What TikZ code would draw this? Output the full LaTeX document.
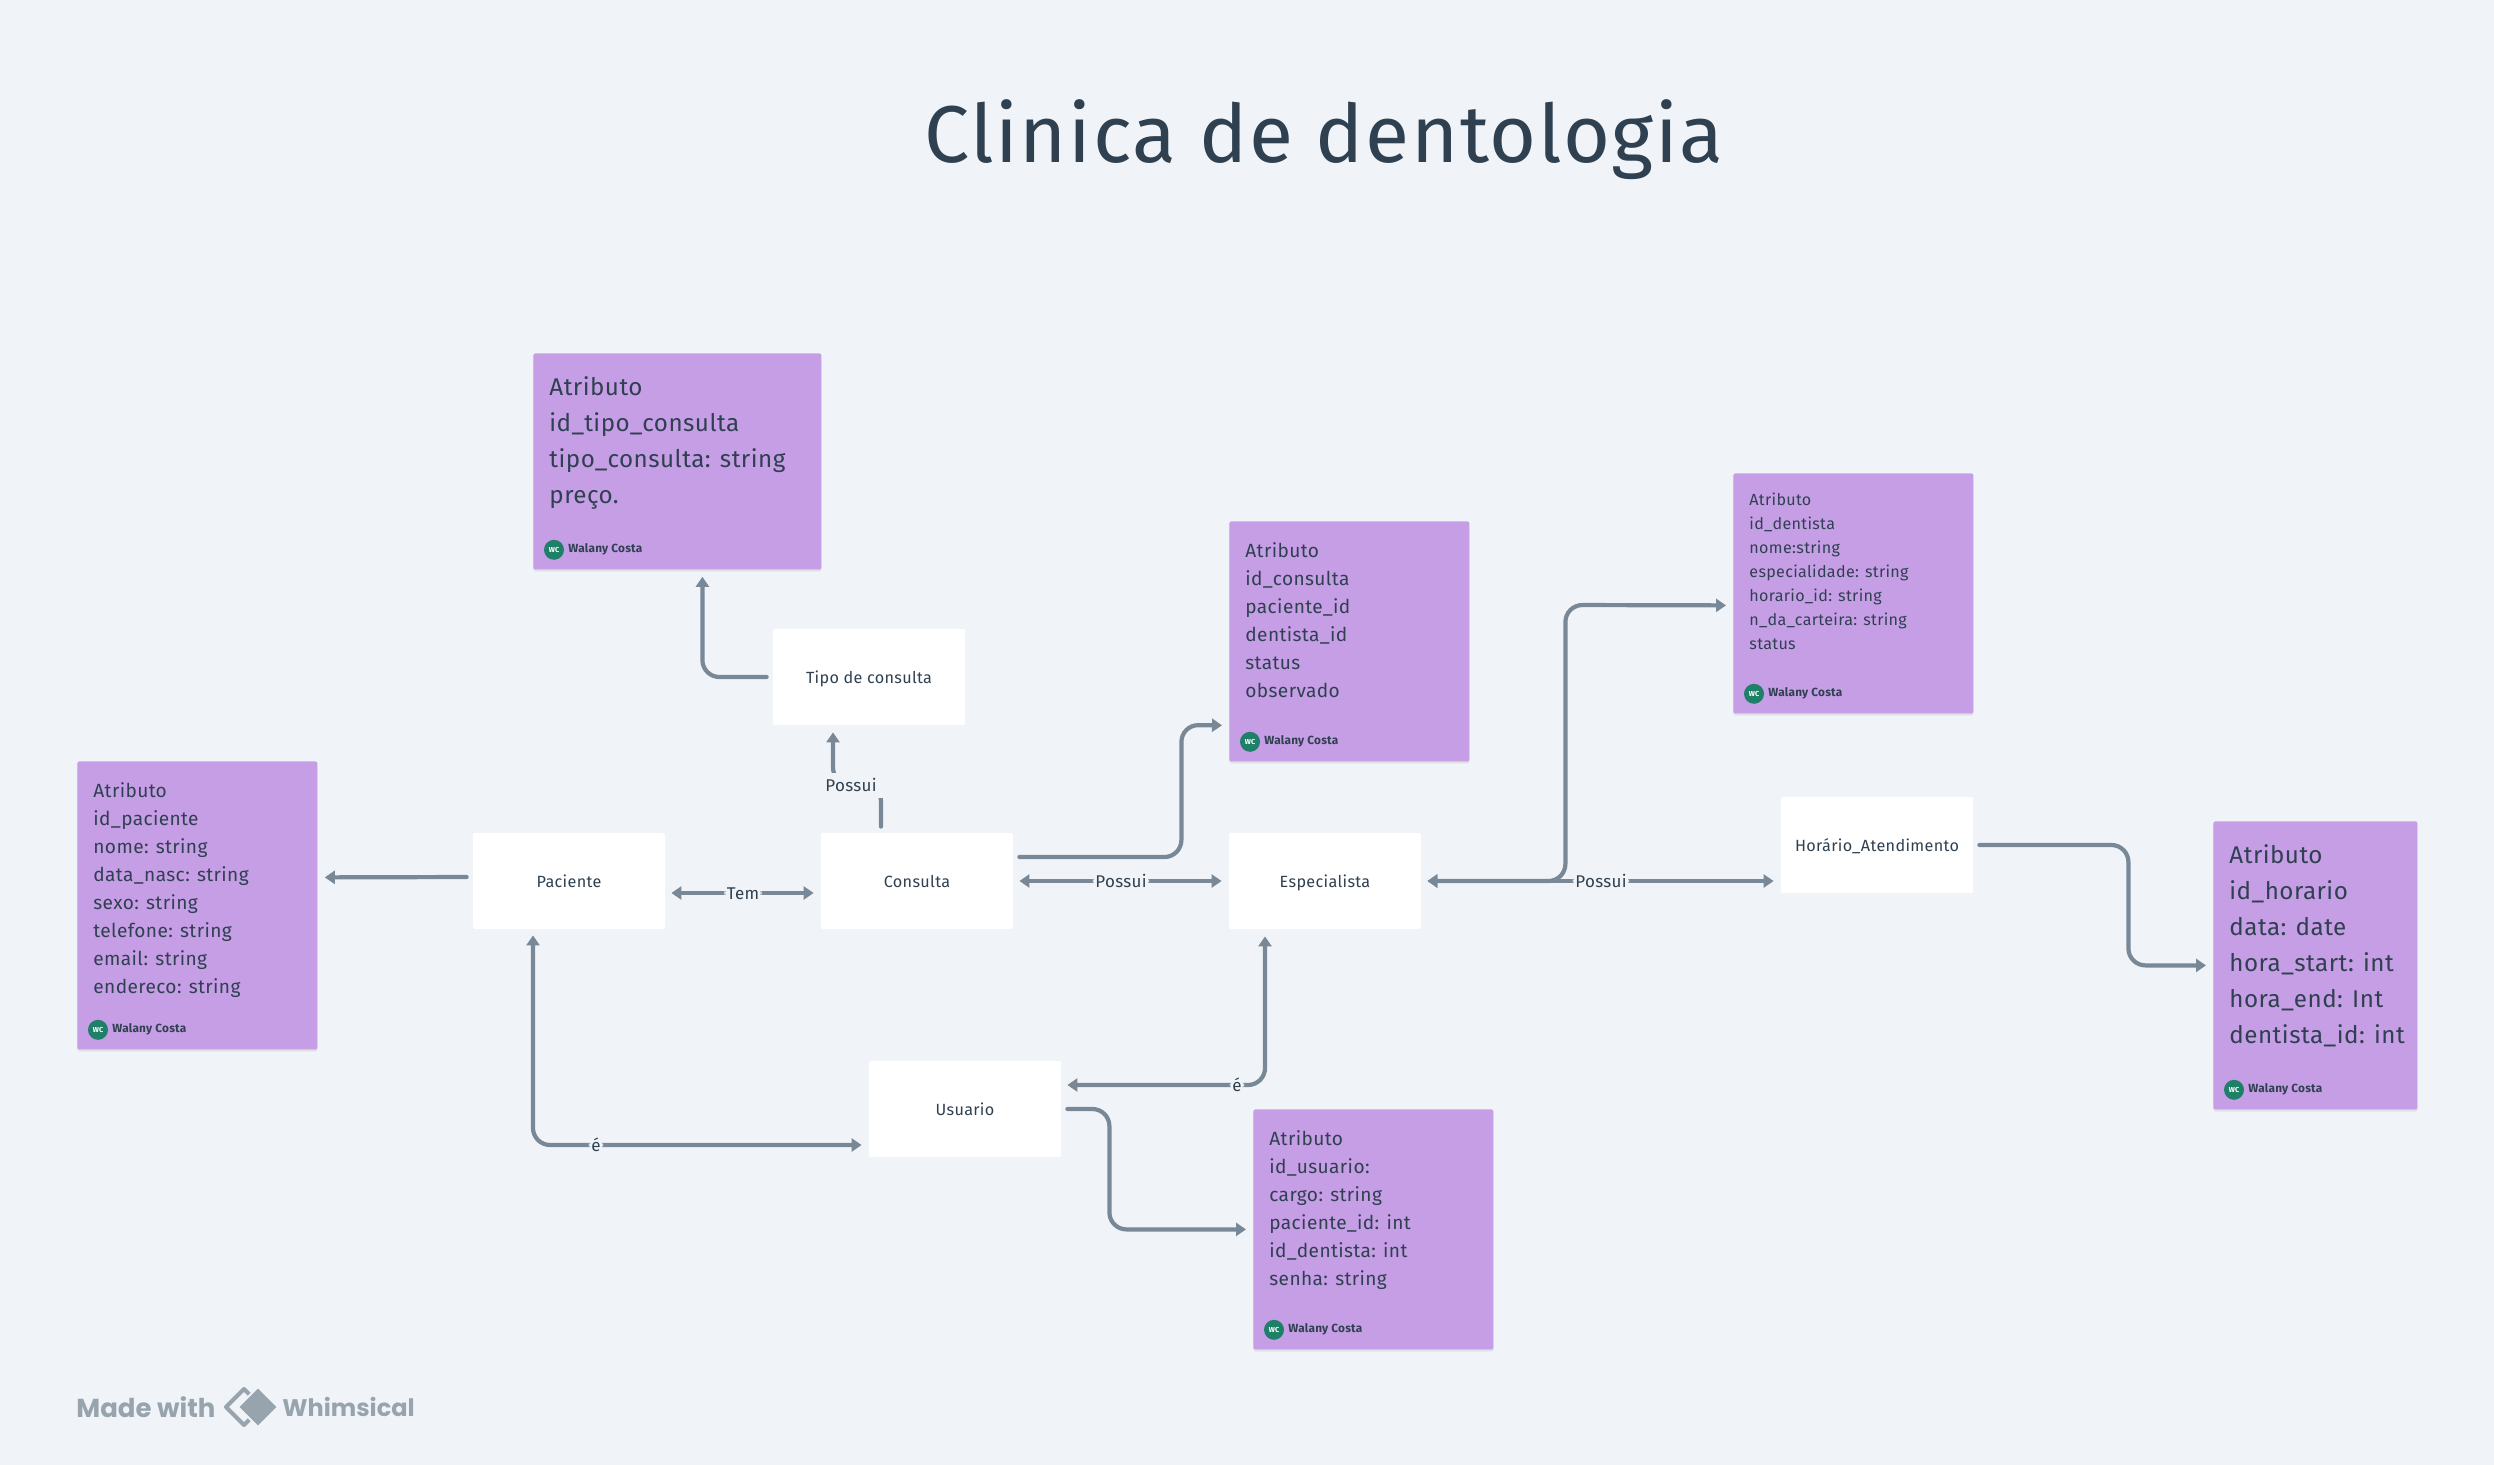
\documentclass[tikz,border=0pt]{standalone}
\usepackage{fontspec}
\setmainfont{Fira Sans}[LetterSpace=2]
\newfontfamily\marcafont{Poppins}
\usetikzlibrary{positioning, arrows.meta, shadows}

\definecolor{fundo}{HTML}{F0F4F8}
\definecolor{roxo}{HTML}{C69EE6}
\definecolor{linha}{HTML}{788896}
\definecolor{texto}{HTML}{2F4050}
\definecolor{verde}{HTML}{1F8068}
\definecolor{marca}{HTML}{97A3AD}

\tikzset{
    entidade/.style={
        rectangle,
        rounded corners=1pt,
        fill=white,
        text=texto,
        minimum width=96pt,
        minimum height=48pt,
        inner sep=0pt,
        text height=8pt,
        text depth=2pt,
        font=\fontsize{8.1}{10}\selectfont
    },
    cartao/.style={
        rectangle,
        rounded corners=1pt,
        fill=roxo,
        anchor=north west,
        inner sep=0pt,
        drop shadow={shadow xshift=0pt, shadow yshift=-1pt, opacity=.18}
    },
    atributos/.style={
        anchor=north west,
        align=left,
        inner sep=0pt,
        text=texto
    },
    pequeno/.style={atributos, font=\fontsize{8.05}{12}\selectfont},
    medio/.style={atributos, font=\fontsize{9.55}{14}\selectfont},
    grande/.style={atributos, font=\fontsize{12.1}{18}\selectfont},
    conn/.style={
        draw=linha,
        line width=2.1pt,
        line cap=round,
        rounded corners=8.5pt,
        shorten <=3pt,
        shorten >=3.5pt,
        >={Triangle[width=6.5pt,length=5pt]}
    },
    rotulo/.style={
        fill=fundo,
        text=texto,
        inner xsep=1.25pt,
        inner ysep=1pt,
        text height=8pt,
        text depth=2pt,
        font=\fontsize{8.5}{10}\selectfont
    },
    avatar/.style={
        circle,
        fill=verde,
        text=white,
        minimum size=10pt,
        inner sep=0pt,
        font=\fontsize{3.6}{4}\selectfont\bfseries
    },
    autor/.style={
        anchor=west,
        inner sep=0pt,
        text=texto,
        font=\fontsize{5.9}{7}\selectfont\bfseries
    }
}

\newcommand{\autoria}[1]{
    \node[avatar] (#1wc) at ([xshift=10.5pt,yshift=10pt]#1.south west) {WC};
    \node[autor] (#1nome) at ([xshift=7pt]#1wc.center) {Walany Costa};
}

\begin{document}
\begin{tikzpicture}[x=0.5pt, y=-0.5pt]
    \fill[fundo] (0,0) rectangle (2494,1465);
    \useasboundingbox (0,0) rectangle (2494,1465);

    \node[text=texto, font=\fontsize{40.3}{44}\selectfont] (titulo) at (1324,140) {Clinica de dentologia};

    % entidades
    \node[entidade] (tipoconsulta) at (869,677) {Tipo de consulta};
    \node[entidade] (paciente) at (569,881) {Paciente};
    \node[entidade] (consulta) at (917,881) {Consulta};
    \node[entidade] (especialista) at (1325,881) {Especialista};
    \node[entidade] (horario) at (1877,845) {Horário\_Atendimento};
    \node[entidade] (usuario) at (965,1109) {Usuario};

    % cartoes
    \node[cartao, minimum width=144pt, minimum height=108pt] (atribtipo) at (533,353) {};
    \node[grande] (textotipo) at (549,376) {Atributo\\id\_tipo\_consulta\\tipo\_consulta: string\\preço.};
    \autoria{atribtipo}

    \node[cartao, minimum width=120pt, minimum height=144pt] (atribpaciente) at (77,761) {};
    \node[medio] (textopaciente) at (93,782) {Atributo\\id\_paciente\\nome: string\\data\_nasc: string\\sexo: string\\telefone: string\\email: string\\endereco: string};
    \autoria{atribpaciente}

    \node[cartao, minimum width=120pt, minimum height=120pt] (atribconsulta) at (1229,521) {};
    \node[medio] (textoconsulta) at (1245,542) {Atributo\\id\_consulta\\paciente\_id\\dentista\_id\\status\\observado};
    \autoria{atribconsulta}

    \node[cartao, minimum width=120pt, minimum height=120pt] (atribespecialista) at (1733,473) {};
    \node[pequeno] (textoespecialista) at (1749,493) {Atributo\\id\_dentista\\nome:string\\especialidade: string\\horario\_id: string\\n\_da\_carteira: string\\status};
    \autoria{atribespecialista}

    \node[cartao, minimum width=102pt, minimum height=144pt] (atribhorario) at (2213,821) {};
    \node[grande] (textohorario) at (2229,844) {Atributo\\id\_horario\\data: date\\hora\_start: int\\hora\_end: Int\\dentista\_id: int};
    \autoria{atribhorario}

    \node[cartao, minimum width=120pt, minimum height=120pt] (atribusuario) at (1253,1109) {};
    \node[medio] (textousuario) at (1269,1130) {Atributo\\id\_usuario:\\cargo: string\\paciente\_id: int\\id\_dentista: int\\senha: string};
    \autoria{atribusuario}

    % conexoes
    \draw[conn, ->] (tipoconsulta.west) -| ([xshift=12.5pt]atribtipo.south);
    \draw[conn, ->] ([xshift=-18pt]consulta.north) -- ++(0,-48) -| ([xshift=-18pt]tipoconsulta.south);
    \node[rotulo, inner xsep=9pt, inner ysep=0pt, minimum height=12.5pt] (rotulotipo) at (851,785) {Possui};
    \draw[conn, ->] ([yshift=2pt]paciente.west) -- ([yshift=14pt]atribpaciente.east);
    \draw[conn, <->] ([yshift=-6pt]paciente.east) -- node[rotulo] (rotulotem) {Tem} ([yshift=-6pt]consulta.west);
    \draw[conn, <->] (consulta.east) -- node[rotulo] (rotuloconsulta) {Possui} (especialista.west);
    \draw[conn, ->] ([yshift=12pt]consulta.east) -- ++(168,0) -- ++(0,-132) -- ([yshift=-42pt]atribconsulta.west);
    \draw[conn, <->] (especialista.east) -- ++(144,0) -- ++(0,-276) -- ([yshift=-6pt]atribespecialista.west);
    \draw[conn, <->] (especialista.east) -- node[rotulo] (rotulohorario) {Possui} ([yshift=-18pt]horario.west);
    \draw[conn, ->] (horario.east) -- ++(155,0) |- (atribhorario.west);
    \draw[conn, <->] ([yshift=12pt]usuario.east) -| node[rotulo, pos=.431] (rotuloe) {é} ([xshift=-30pt]especialista.south);
    \draw[conn, <->] ([xshift=-18pt]paciente.south) |- node[rotulo, pos=.594] (rotulou) {é} ([yshift=-18pt]usuario.west);
    \draw[conn, ->] (usuario.east) -- ++(48,0) |- (atribusuario.west);

    % marca
    \node[anchor=west, inner sep=0pt, text=marca, font=\marcafont\fontsize{13}{14}\selectfont\bfseries] (feito) at (76,1407) {Made with};
    \draw[marca, line width=2pt, line join=round] (226,1407) -- (244,1389) -- (262,1407) -- (244,1425) -- cycle;
    \fill[marca, draw=fundo, line width=1pt, line join=round] (238,1407) -- (258,1387) -- (278,1407) -- (258,1427) -- cycle;
    \node[anchor=west, inner sep=0pt, text=marca, font=\marcafont\fontsize{12}{14}\selectfont\bfseries] (whimsical) at (282,1407) {Whimsical};
\end{tikzpicture}
\end{document}
